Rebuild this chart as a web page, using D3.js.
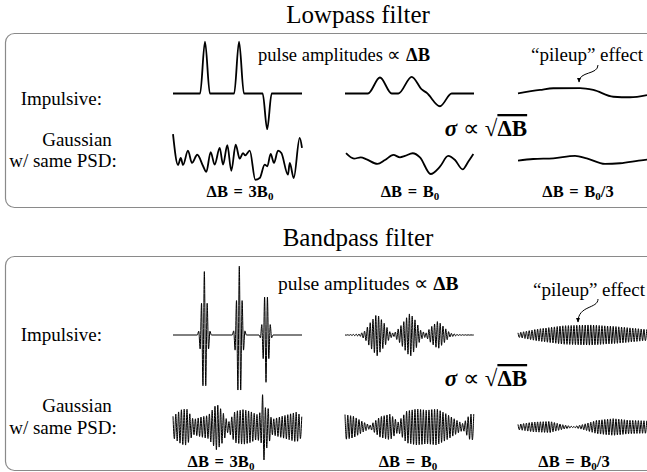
<!DOCTYPE html>
<html><head><meta charset="utf-8">
<script src="https://cdn.jsdelivr.net/npm/d3@7"></script>
<style>body{margin:0;background:#fff}svg{display:block}</style>
</head><body>
<svg id="c" width="647" height="472"></svg>
<script>
// ---------- text ----------
const sectionTitles = ["Lowpass filter", "Bandpass filter"];
const rowLabels = ["Impulsive:", "Gaussian", "w/ same PSD:"];
const bandwidthLabels = [["3B", "0", ""], ["B", "0", ""], ["B", "0", "/3"]];
const noteAmp = "pulse amplitudes";
const notePileup = "\u201Cpileup\u201D effect";

// ---------- lowpass signals: [time (0-10), amplitude] ----------
const lowImpulsive1 = [[0,0],[2.1,0],[2.48,3.05],[2.86,0],[4.74,0],[5.12,3.05],[5.5,0],[6.95,0],[7.3,-2.1],[7.65,0],[10,0]];
const lowImpulsive2 = [[0,0],[1.78,0],[2.71,0.94],[3.62,0],[4.14,0],[5.17,0.98],[5.95,0.24],[6.33,0.04],[7.36,-0.75],[8.27,0],[10,0]];
const lowImpulsive3 = [[0,0.01],[1.71,0.21],[2.74,0.31],[4.81,0.32],[5.84,0.21],[7.39,-0.19],[8.68,-0.22],[10,-0.09]];
const lowGaussian1 = [[0,1.41],[0.39,-0.41],[0.6,0],[0.78,-0.41],[1.16,0.43],[1.47,-0.29],[1.88,0.19],[2.33,-0.47],[2.58,-0.82],[2.92,0.35],[3.23,-0.39],[3.62,0.59],[3.88,-0.39],[4.21,0.75],[4.52,-0.75],[4.86,0.78],[5.17,-0.04],[5.43,0.29],[5.6,0.16],[5.95,0.43],[6.38,-1.28],[6.72,-1.18],[7.11,-0.39],[7.31,-0.49],[7.57,0.24],[7.83,-0.29],[8.14,0.43],[8.4,0.29],[8.91,-0.98],[9.05,-0.29],[9.36,-1.18],[9.82,1.18],[10,0.59]];
const lowGaussian2 = [[0.08,0.28],[0.7,-0.04],[1.22,0.04],[1.68,-0.08],[2.51,-0.35],[3.1,-0.12],[3.75,0.18],[4.26,0.04],[4.65,0.12],[5.25,0.28],[5.81,0.04],[6.64,-0.94],[7.36,-0.51],[8.0,0.12],[8.53,-0.12],[9.12,-0.67],[9.55,-0.22],[9.95,0.24]];
const lowGaussian3 = [[0,-0.16],[1.18,-0.06],[2.74,-0.02],[4.42,0.12],[5.33,-0.02],[6.74,-0.35],[7.91,-0.31],[9.71,-0.12],[10,-0.1]];

// ---------- bandpass signals ----------
const carrierHalfPeriod = 0.1085;              // time units between successive extremes
const burstShape = [0, 0.06, -0.22, 0.5, -0.8, 1, -0.8, 0.5, -0.22, 0.06, 0];
const burstTimes = [2.43, 5.14, 7.21];
const burstAmps = [2.95, 3.2, -2.2];
// envelopes: [time, envelope amplitude]
const bpImpulsiveEnv2 = [[0,0],[1.16,0.05],[1.55,0.19],[1.94,0.56],[2.48,0.98],[3.02,0.56],[3.49,0.14],[3.8,0.07],[4.26,0.37],[4.65,0.7],[5.04,1.02],[5.43,0.7],[5.89,0.19],[6.28,0.09],[6.67,0.37],[7.21,0.65],[7.67,0.37],[8.14,0.09],[8.76,0.02],[10,0]];
const bpImpulsiveEnv3 = [[0,0.1],[1.45,0.27],[3.51,0.43],[5.58,0.47],[7.65,0.39],[9.71,0.27],[10,0.26]];
const bpGaussianEnv1 = [[0,0.5],[0.67,0.81],[1.06,0.85],[1.57,0.35],[2.22,0.47],[2.74,0.54],[3.39,1.08],[3.78,0.78],[4.29,0.2],[4.81,0.73],[5.45,0.81],[5.97,0.73],[6.49,0.58],[6.83,0.7],[6.94,1.5],[7.05,1.55],[7.16,0.9],[7.3,1.0],[7.65,0.35],[8.29,0.47],[8.94,0.58],[9.59,0.7],[10,0.47]];
const bpGaussianEnv2 = [[0,0.58],[0.64,0.5],[1.42,0.23],[1.94,0.08],[2.71,0.47],[3.49,0.6],[4.13,0.23],[4.78,0.74],[5.56,0.84],[6.33,0.78],[7.11,0.84],[7.88,0.6],[8.66,0.31],[9.17,0.15],[9.69,0.6],[10,0.6]];
const bpGaussianEnv3 = [[0,0.12],[1.19,0.23],[2.48,0.26],[3.51,0.1],[4.29,0.02],[5.06,0.12],[6.1,0.31],[7.39,0.39],[8.68,0.31],[9.71,0.29],[10,0.29]];

// ---------- layout ----------
const svg = d3.select("#c");
const panelX = [173, 345, 518], panelW = 129;
const serif = "'Liberation Serif', 'Times New Roman', serif";

const sections = [
  {title: sectionTitles[0], titleY: 23, box: [5, 33, 700, 174], rows: [93.5, 158], unit: 17,
   labelY: [105, 146, 167], ampNote: [258, 61, 18.5], pileNote: [643, 61], arrow: [[598,65],[579,82]],
   sigma: [486, 136], bwY: 197, bwX: [240, 410, 578], stroke: 1.8, kind: "low"},
  {title: sectionTitles[1], titleY: 246, box: [5, 256, 700, 214], rows: [335, 427], unit: 21.5,
   labelY: [341, 412, 434], ampNote: [278, 290, 19.5], pileNote: [645, 296], arrow: [[598,299],[578,322]],
   sigma: [486, 386], bwY: 467, bwX: [221, 408, 574], stroke: 1.0, kind: "band"}
];

const lowSignals = [[lowImpulsive1, lowImpulsive2, lowImpulsive3], [lowGaussian1, lowGaussian2, lowGaussian3]];

function burstPoints() {
  const pts = [[0, 0]];
  burstTimes.forEach((p, i) => {
    const half = (burstShape.length - 1) / 2;
    burstShape.forEach((s, k) => pts.push([p + (k - half) * carrierHalfPeriod, s * burstAmps[i]]));
  });
  pts.push([10, 0]);
  return pts;
}
function carrierPoints(env) {
  const e = d3.scaleLinear().domain(env.map(d => d[0])).range(env.map(d => d[1]));
  const n = Math.floor(10 / carrierHalfPeriod);
  return d3.range(n + 1).map(k => [k * carrierHalfPeriod, (k % 2 ? -1 : 1) * e(k * carrierHalfPeriod)]);
}
const bandSignals = [[burstPoints(), carrierPoints(bpImpulsiveEnv2), carrierPoints(bpImpulsiveEnv3)],
                     [carrierPoints(bpGaussianEnv1), carrierPoints(bpGaussianEnv2), carrierPoints(bpGaussianEnv3)]];

svg.append("defs").append("marker").attr("id", "ah").attr("viewBox", "0 0 10 10")
  .attr("refX", 8).attr("refY", 5).attr("markerWidth", 5).attr("markerHeight", 5).attr("orient", "auto")
  .append("path").attr("d", "M0,1 L9,5 L0,9 Z").attr("fill", "#000");

sections.forEach(sec => {
  const g = svg.append("g").attr("font-family", serif);
  g.append("text").attr("x", 358).attr("y", sec.titleY).attr("text-anchor", "middle")
    .attr("font-size", 25).text(sec.title);
  g.append("rect").attr("x", sec.box[0] + 0.5).attr("y", sec.box[1] + 0.5).attr("width", sec.box[2]).attr("height", sec.box[3])
    .attr("rx", 9).attr("fill", "none").attr("stroke", "#8a8a8a").attr("stroke-width", 1.2);

  // row labels
  g.append("text").attr("x", 102).attr("y", sec.labelY[0]).attr("text-anchor", "end")
    .attr("font-size", 19).text(rowLabels[0]);
  g.append("text").attr("x", 77).attr("y", sec.labelY[1]).attr("text-anchor", "middle")
    .attr("font-size", 19).text(rowLabels[1]);
  g.append("text").attr("x", 63).attr("y", sec.labelY[2]).attr("text-anchor", "middle")
    .attr("font-size", 19).text(rowLabels[2]);

  // waveforms
  const signals = sec.kind === "low" ? lowSignals : bandSignals;
  signals.forEach((row, r) => {
    row.forEach((pts, c) => {
      const x = d3.scaleLinear().domain([0, 10]).range([panelX[c], panelX[c] + panelW]);
      const y = d3.scaleLinear().domain([-1, 1]).range([sec.rows[r] + sec.unit, sec.rows[r] - sec.unit]);
      const line = d3.line().x(d => x(d[0])).y(d => y(d[1])).curve(d3.curveMonotoneX);
      g.append("path").attr("d", line(pts)).attr("fill", "none")
        .attr("stroke", "#000").attr("stroke-width", sec.stroke).attr("stroke-linejoin", "round");
    });
  });

  // notes
  const an = g.append("text").attr("x", sec.ampNote[0]).attr("y", sec.ampNote[1]).attr("font-size", sec.ampNote[2]);
  an.append("tspan").text(noteAmp + " \u221D ");
  an.append("tspan").attr("font-weight", "bold").text("\u0394B");

  g.append("text").attr("x", sec.pileNote[0]).attr("y", sec.pileNote[1]).attr("text-anchor", "end")
    .attr("font-size", 19).text(notePileup);
  const [a0, a1] = sec.arrow;
  g.append("path").attr("d", `M${a0[0]},${a0[1]} C${a0[0]},${a0[1] + 10} ${a1[0]},${a0[1] + 6} ${a1[0]},${a1[1]}`)
    .attr("fill", "none").attr("stroke", "#000").attr("stroke-width", 1).attr("marker-end", "url(#ah)");

  // sigma relation
  const sg = g.append("text").attr("x", sec.sigma[0]).attr("y", sec.sigma[1]).attr("text-anchor", "middle")
    .attr("font-size", 23).attr("font-weight", "bold");
  sg.append("tspan").attr("font-style", "italic").text("\u03C3");
  sg.append("tspan").attr("font-weight", "normal").text(" \u221D \u221A");
  sg.append("tspan").attr("text-decoration", "overline").text("\u0394B");

  // bandwidth labels
  bandwidthLabels.forEach((lab, i) => {
    const t = g.append("text").attr("x", sec.bwX[i]).attr("y", sec.bwY).attr("text-anchor", "middle")
      .attr("font-size", 16.5).attr("font-weight", "bold").attr("word-spacing", 1.5);
    t.append("tspan").text("\u0394B = " + lab[0]);
    t.append("tspan").attr("font-size", 11).attr("dy", 3).text(lab[1]);
    t.append("tspan").attr("dy", -3).text(lab[2]);
  });
});
</script>
</body></html>
